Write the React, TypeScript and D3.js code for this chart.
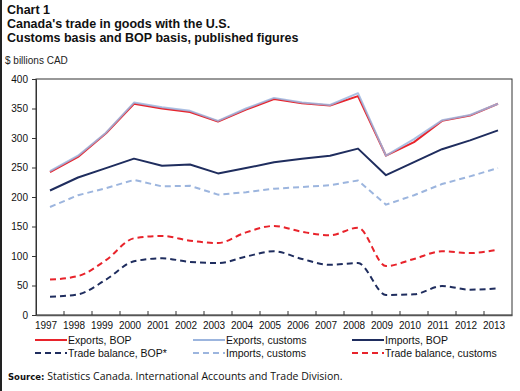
import React, { useEffect, useRef } from "react";
import * as d3 from "d3";

const years = [
  "1997", "1998", "1999", "2000", "2001", "2002", "2003", "2004", "2005",
  "2006", "2007", "2008", "2009", "2010", "2011", "2012", "2013",
];

const exportsBop = [242, 268, 308, 358, 350, 344, 328, 348, 366, 359, 355, 371, 270, 293, 329, 338, 358];
const exportsCustoms = [244, 270, 309, 360, 352, 346, 329, 350, 368, 360, 356, 376, 270, 298, 330, 339, 358];
const importsBop = [211, 233, 249, 265, 253, 255, 240, 249, 259, 265, 270, 282, 237, 259, 281, 296, 313];
const importsCustoms = [183, 203, 215, 229, 218, 219, 204, 208, 214, 217, 220, 228, 187, 203, 222, 235, 249];
const balanceCustoms = [60, 66, 93, 130, 134, 126, 122, 140, 151, 141, 135, 148, 83, 95, 108, 105, 111];
const balanceBop = [31, 35, 60, 91, 96, 90, 88, 99, 108, 95, 85, 88, 34, 35, 49, 43, 45];

const yTicks = [0, 50, 100, 150, 200, 250, 300, 350, 400];

interface Series {
  name: string;
  values: number[];
  color: string;
  dashed: boolean;
  smooth: boolean;
  opacity: number;
}

const series: Series[] = [
  { name: "Trade balance, BOP*", values: balanceBop, color: "#1f2d5e", dashed: true, smooth: true, opacity: 1 },
  { name: "Trade balance, customs", values: balanceCustoms, color: "#e8232b", dashed: true, smooth: true, opacity: 1 },
  { name: "Imports, customs", values: importsCustoms, color: "#9cb5de", dashed: true, smooth: false, opacity: 1 },
  { name: "Imports, BOP", values: importsBop, color: "#1f2d5e", dashed: false, smooth: false, opacity: 1 },
  { name: "Exports, BOP", values: exportsBop, color: "#e8232b", dashed: false, smooth: false, opacity: 1 },
  { name: "Exports, customs", values: exportsCustoms, color: "#9cb5de", dashed: false, smooth: false, opacity: 0.85 },
];

const legendOrder = [
  "Exports, BOP", "Exports, customs", "Imports, BOP",
  "Trade balance, BOP*", "Imports, customs", "Trade balance, customs",
];

export default function App() {
  const svgRef = useRef<SVGSVGElement>(null);

  useEffect(() => {
    const width = 520;
    const height = 391;
    const margin = { top: 79, right: 8, bottom: 76, left: 36 };

    const svg = d3.select(svgRef.current);
    svg.selectAll("*").remove();
    svg.attr("width", width).attr("height", height);

    svg.append("rect").attr("width", width).attr("height", height).attr("fill", "#fff");
    // left frame line
    svg.append("rect").attr("x", 0).attr("y", 0).attr("width", 2).attr("height", height).attr("fill", "#222");

    const font = "Liberation Sans, Arial, sans-serif";

    const titles = ["Chart 1", "Canada's trade in goods with the U.S.", "Customs basis and BOP basis, published figures"];
    svg
      .selectAll("text.title")
      .data(titles)
      .join("text")
      .attr("class", "title")
      .attr("x", 7)
      .attr("y", (_, i) => 14 + i * 14)
      .attr("font-family", font)
      .attr("font-weight", "bold")
      .attr("font-size", 12.5)
      .attr("fill", "#111")
      .text((d) => d);

    svg
      .append("text")
      .attr("x", 5)
      .attr("y", 64)
      .attr("font-family", font)
      .attr("font-size", 10)
      .attr("fill", "#222")
      .text("$ billions CAD");

    const x = d3
      .scaleBand()
      .domain(years)
      .range([margin.left, width - margin.right]);
    const y = d3
      .scaleLinear()
      .domain([0, 400])
      .range([height - margin.bottom, margin.top]);

    const g = svg.append("g");

    // plot frame
    g.append("rect")
      .attr("x", margin.left)
      .attr("y", margin.top)
      .attr("width", width - margin.left - margin.right)
      .attr("height", height - margin.top - margin.bottom)
      .attr("fill", "none")
      .attr("stroke", "#333")
      .attr("stroke-width", 1);

    // y ticks
    const yAxis = g
      .append("g")
      .attr("transform", `translate(${margin.left},0)`)
      .call(d3.axisLeft(y).tickValues(yTicks).tickSize(4).tickPadding(4));
    yAxis.select(".domain").attr("stroke", "#333");
    yAxis.selectAll("line").attr("stroke", "#333");
    yAxis.selectAll("text").attr("font-family", font).attr("font-size", 10).attr("fill", "#111");

    // x ticks at band boundaries
    const xAxis = g
      .append("g")
      .attr("transform", `translate(0,${height - margin.bottom})`)
      .call(d3.axisBottom(x).tickSize(0).tickPadding(7));
    xAxis.select(".domain").attr("stroke", "#555").attr("stroke-width", 1.5);
    xAxis.selectAll("text").attr("font-family", font).attr("font-size", 10).attr("fill", "#111").attr("dx", -4);
    g.selectAll("line.xtick")
      .data(years.slice(1))
      .join("line")
      .attr("class", "xtick")
      .attr("x1", (d) => x(d)!)
      .attr("x2", (d) => x(d)!)
      .attr("y1", height - margin.bottom)
      .attr("y2", height - margin.bottom - 4)
      .attr("stroke", "#333");

    const cx = (i: number) => x(years[i])! + x.bandwidth() / 2;

    series.forEach((s) => {
      const line = d3
        .line<number>()
        .x((_, i) => cx(i))
        .y((v) => y(v))
        .curve(s.smooth ? d3.curveMonotoneX : d3.curveLinear);
      g.append("path")
        .datum(s.values)
        .attr("d", line)
        .attr("fill", "none")
        .attr("stroke", s.color)
        .attr("stroke-width", 2)
        .attr("stroke-opacity", s.opacity)
        .attr("stroke-dasharray", s.dashed ? "6,4" : null)
        .attr("stroke-linejoin", "round");
    });

    // legend
    const colX = [35, 193, 352];
    const legend = svg
      .selectAll("g.leg")
      .data(legendOrder)
      .join("g")
      .attr("class", "leg")
      .attr("transform", (_, i) => `translate(${colX[i % 3]},${340 + Math.floor(i / 3) * 13})`);
    legend.each(function (name) {
      const s = series.find((d) => d.name === name)!;
      const el = d3.select(this);
      el.append("line")
        .attr("x1", 0)
        .attr("x2", 32)
        .attr("y1", 0)
        .attr("y2", 0)
        .attr("stroke", s.color)
        .attr("stroke-width", 2)
        .attr("stroke-dasharray", s.dashed ? "6,4" : null);
      el.append("text")
        .attr("x", 33)
        .attr("y", 4)
        .attr("font-family", font)
        .attr("font-size", 10.5)
        .attr("fill", "#111")
        .text(name);
    });

    const src = svg
      .append("text")
      .attr("x", 8)
      .attr("y", 380)
      .attr("font-size", 10.5)
      .attr("fill", "#111");
    src.append("tspan").attr("font-family", "DejaVu Sans, sans-serif").attr("font-weight", "bold").attr("font-size", 8.5).text("Source:");
    src.append("tspan").attr("font-family", "Open Sans, sans-serif").text(" Statistics Canada. International Accounts and Trade Division.");
  }, []);

  return (
    <div style={{ position: "absolute", left: 0, top: 0 }}>
      <svg ref={svgRef}></svg>
    </div>
  );
}
